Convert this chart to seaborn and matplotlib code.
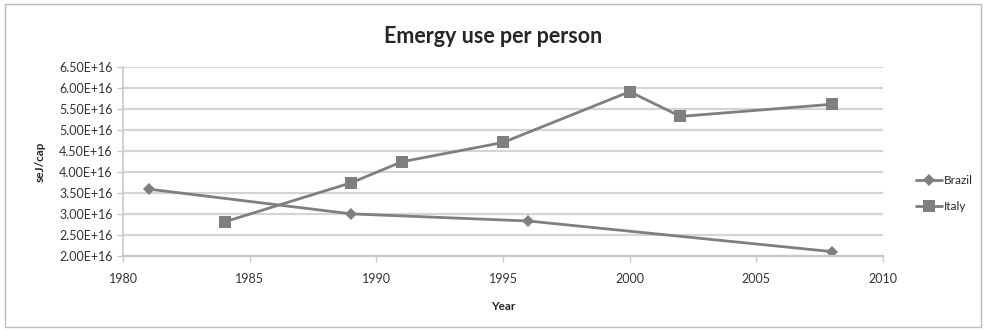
import pandas as pd
import seaborn as sns
import matplotlib.pyplot as plt
from matplotlib.ticker import FuncFormatter

brazil_years = [1981, 1989, 1996, 2008]
brazil_vals = [3.59e16, 3.00e16, 2.83e16, 2.10e16]
italy_years = [1984, 1989, 1991, 1995, 2000, 2002, 2008]
italy_vals = [2.81e16, 3.74e16, 4.24e16, 4.70e16, 5.91e16, 5.32e16, 5.61e16]

df = pd.concat([
    pd.DataFrame({'Year': brazil_years, 'val': brazil_vals, 'country': 'Brazil'}),
    pd.DataFrame({'Year': italy_years, 'val': italy_vals, 'country': 'Italy'}),
])

sns.set_style('white')
plt.rcParams['font.family'] = ['Lato', 'DejaVu Sans']

fig = plt.figure(figsize=(9.86, 3.31), dpi=100)
ax = fig.add_axes([0.125, 0.227, 0.7705, 0.571])

line_col = '#7f7f7f'
sns.lineplot(data=df, x='Year', y='val', hue='country', style='country',
             markers={'Brazil': 'D', 'Italy': 's'}, dashes=False,
             palette={'Brazil': line_col, 'Italy': line_col},
             markersize=9, linewidth=2, markeredgewidth=0, ax=ax)
# brazil diamonds are smaller
for ln in ax.get_lines():
    if ln.get_marker() == 'D':
        ln.set_markersize(6.5)

ax.set_xlim(1980, 2010)
ax.set_ylim(2.0e16, 6.5e16)
ax.set_xticks(range(1980, 2011, 5))
ax.set_yticks([2.0e16 + 0.5e16 * i for i in range(10)])
ax.yaxis.set_major_formatter(FuncFormatter(lambda v, p: '%.2fE+16' % (v / 1e16)))
ax.grid(axis='y', color='#d4d4d4', linewidth=1.6)
ax.set_axisbelow(True)
for s in ['top', 'right']:
    ax.spines[s].set_visible(False)
ax.spines['left'].set_color('#c8c8c8')
ax.spines['bottom'].set_color('#c8c8c8')
ax.spines['left'].set_linewidth(1.2)
ax.spines['bottom'].set_linewidth(1.6)
ax.tick_params(axis='both', direction='out', length=4, width=1, color='#c8c8c8',
               labelsize=9, labelcolor='#333333', bottom=True, left=True)
ax.tick_params(axis='x', pad=8)

ax.set_xlabel('Year', fontsize=8.5, fontweight='bold', labelpad=12)
ax.set_ylabel('seJ/cap', fontsize=8.5, fontweight='bold', labelpad=10)
fig.suptitle('Emergy use per person', fontsize=15.5, fontweight='bold', y=0.92)

ax.legend(loc='center left', bbox_to_anchor=(1.03, 0.33), frameon=False,
          fontsize=8.5, handlelength=2.2, handletextpad=0.1, labelspacing=1.3)

fig.patches.append(plt.Rectangle((0.005, 0.012), 0.99, 0.975, transform=fig.transFigure,
                                 fill=False, edgecolor='#bbbbbb', linewidth=1))

plt.savefig('out.png', dpi=100)
